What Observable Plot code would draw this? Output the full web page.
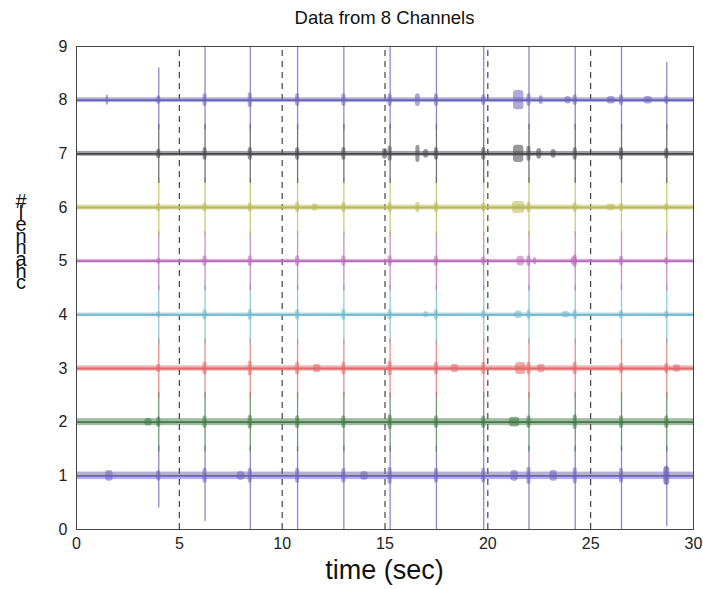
<!DOCTYPE html>
<html><head><meta charset="utf-8">
<script src="https://cdn.jsdelivr.net/npm/d3@7"></script>
<script src="https://cdn.jsdelivr.net/npm/@observablehq/plot@0.6"></script>
<style>
body{margin:0;background:#fff;font-family:"Liberation Sans",Arial,sans-serif;}
#wrap{position:relative;width:703px;height:589px;overflow:hidden;}
#title{position:absolute;left:0;width:769px;top:7px;text-align:center;font-size:18.5px;color:#111;}
#xlabel{position:absolute;left:0;width:769px;top:555px;text-align:center;font-size:27px;color:#111;}
#ylabel{position:absolute;left:0;width:42px;top:196px;text-align:center;font-size:20px;line-height:11.6px;color:#111;}
#chart{position:absolute;left:0;top:0;}
#chart svg g[aria-label="rect"]{filter:blur(0.7px);}
</style></head>
<body>
<div id="wrap">
  <div id="chart"></div>
  <div id="title"></div>
  <div id="xlabel"></div>
  <div id="ylabel"></div>
</div>
<script>
// ---- data ----
const titleText = "Data from 8 Channels";
const xLabelText = "time (sec)";
const yLabelText = "channel #";
const xTicks = [0, 5, 10, 15, 20, 25, 30];
const yTicks = [0, 1, 2, 3, 4, 5, 6, 7, 8, 9];
const channels = [1, 2, 3, 4, 5, 6, 7, 8];
const channelColors = ["#6a62b8", "#3f7a45", "#e06a6a", "#6fb8cc", "#b86cb8", "#b9b955", "#45454c", "#6a62b8"];
const noiseAmp = [0.07, 0.065, 0.05, 0.035, 0.035, 0.045, 0.045, 0.045];
const dashTimes = [5, 10, 15, 20, 25];
const spikeTimes = [4.0, 6.25, 8.45, 10.75, 13.0, 15.25, 17.5, 19.8, 22.0, 24.25, 26.5, 28.7];
const spikeTop = [8.6, 9, 9, 9, 9, 9, 9, 9, 9, 9, 9, 8.7];      // channel 8 upper reach
const spikeBottom = [0.4, 0.15, 0, 0, 0, 0, 0, 0, 0, 0, 0, 0.05]; // channel 1 lower reach
const spikeReach = 0.55;
// burst amplitude around each spike, per channel (1..8), same order as spikeTimes
const spikeBurst = [
  [0.10, 0.14, 0.14, 0.14, 0.14, 0.16, 0.14, 0.14, 0.16, 0.15, 0.14, 0.18],
  [0.10, 0.12, 0.13, 0.12, 0.12, 0.14, 0.12, 0.12, 0.12, 0.14, 0.12, 0.12],
  [0.08, 0.12, 0.14, 0.12, 0.12, 0.14, 0.12, 0.12, 0.12, 0.12, 0.10, 0.10],
  [0.06, 0.10, 0.10, 0.10, 0.10, 0.10, 0.10, 0.08, 0.09, 0.09, 0.08, 0.07],
  [0.06, 0.10, 0.10, 0.10, 0.10, 0.10, 0.10, 0.08, 0.10, 0.12, 0.09, 0.07],
  [0.08, 0.09, 0.09, 0.10, 0.10, 0.10, 0.10, 0.09, 0.10, 0.09, 0.08, 0.07],
  [0.09, 0.12, 0.12, 0.12, 0.12, 0.14, 0.12, 0.12, 0.14, 0.12, 0.12, 0.10],
  [0.08, 0.12, 0.14, 0.12, 0.12, 0.12, 0.12, 0.10, 0.12, 0.10, 0.10, 0.08]
];
// extra noise bursts: [channel, time (s), amplitude, half-width (s)]
const extraBursts = [
  [8, 1.5, 0.10, 0.06], [8, 16.6, 0.12, 0.12], [8, 21.5, 0.18, 0.25], [8, 22.6, 0.08, 0.1], [8, 23.9, 0.07, 0.15], [8, 26.0, 0.07, 0.2], [8, 27.8, 0.07, 0.2],
  [7, 15.0, 0.10, 0.12], [7, 16.6, 0.16, 0.1], [7, 17.0, 0.08, 0.12], [7, 21.5, 0.16, 0.25], [7, 22.5, 0.10, 0.12], [7, 23.2, 0.08, 0.12],
  [6, 11.6, 0.07, 0.15], [6, 16.6, 0.10, 0.1], [6, 21.5, 0.11, 0.3], [6, 26.0, 0.06, 0.2],
  [5, 21.6, 0.09, 0.18], [5, 22.3, 0.07, 0.08], [5, 24.2, 0.08, 0.15],
  [4, 17.0, 0.06, 0.1], [4, 21.5, 0.07, 0.18], [4, 23.8, 0.06, 0.18],
  [3, 11.7, 0.08, 0.18], [3, 18.4, 0.08, 0.18], [3, 21.6, 0.11, 0.25], [3, 22.6, 0.08, 0.18], [3, 29.2, 0.07, 0.18],
  [2, 3.5, 0.07, 0.18], [2, 21.3, 0.09, 0.25],
  [1, 1.6, 0.10, 0.18], [1, 8.0, 0.08, 0.18], [1, 14.0, 0.08, 0.18], [1, 21.3, 0.10, 0.18], [1, 23.2, 0.10, 0.18], [1, 28.7, 0.17, 0.15]
];
const spikeBurstHalfWidth = 0.1;

// ---- tables built from the arrays ----
const baseRows = channels.map((c, i) => ({ch: c, amp: noiseAmp[i], color: channelColors[i]}));
const spikeRows = [];
spikeTimes.forEach((t, j) => channels.forEach((c, i) => spikeRows.push({
  t, color: channelColors[i],
  y1: c === 1 ? spikeBottom[j] : c - spikeReach,
  y2: c === 8 ? spikeTop[j] : c + spikeReach
})));
const burstRows = [];
channels.forEach((c, i) => spikeTimes.forEach((t, j) => burstRows.push({
  ch: c, t, amp: spikeBurst[i][j], hw: spikeBurstHalfWidth, color: channelColors[i]
})));
extraBursts.forEach(([c, t, amp, hw]) => burstRows.push({ch: c, t, amp, hw, color: channelColors[c - 1]}));

const chart = Plot.plot({
  width: 703, height: 589,
  marginLeft: 76, marginRight: 10, marginTop: 46, marginBottom: 60,
  style: {fontFamily: "'Liberation Sans', Arial, sans-serif", fontSize: "16px", color: "#222", background: "transparent"},
  x: {domain: [0, 30], ticks: xTicks, tickSize: 0, tickPadding: 8, label: null},
  y: {domain: [0, 9], ticks: yTicks, tickSize: 0, tickPadding: 9, label: null},
  color: {type: "identity"},
  marks: [
    Plot.ruleX(dashTimes, {x: d => d, y1: 0, y2: 9, stroke: "#333", strokeWidth: 1.1, strokeDasharray: "6,5"}),
    Plot.ruleX(spikeRows, {x: "t", y1: "y1", y2: "y2", stroke: "color", strokeWidth: 1.3, strokeOpacity: 0.75}),
    Plot.rect(baseRows, {x1: 0, x2: 30, y1: d => d.ch - d.amp, y2: d => d.ch + d.amp, fill: "color", fillOpacity: 0.5}),
    Plot.rect(burstRows, {x1: d => d.t - d.hw, x2: d => d.t + d.hw, y1: d => d.ch - d.amp, y2: d => d.ch + d.amp, fill: "color", fillOpacity: 0.55, rx: 3}),
    Plot.ruleY(baseRows, {y: "ch", x1: 0, x2: 30, stroke: "color", strokeWidth: 1.8}),
    Plot.frame({stroke: "#444", strokeWidth: 1})
  ]
});
document.getElementById("chart").appendChild(chart);
document.getElementById("title").textContent = titleText;
document.getElementById("xlabel").textContent = xLabelText;
const yl = document.getElementById("ylabel");
yLabelText.replace(/ /g, "").split("").reverse().forEach(ch => {
  const d = document.createElement("div");
  d.textContent = ch;
  yl.appendChild(d);
});
</script>
</body></html>
